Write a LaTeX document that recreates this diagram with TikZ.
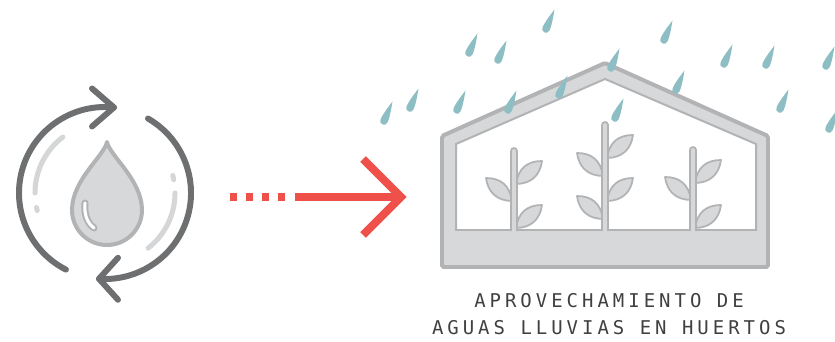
\documentclass[tikz,border=0pt]{standalone}
\usepackage{fontspec}
\usetikzlibrary{calc}
\newfontfamily\captionmono[LetterSpace=21]{DejaVu Sans Mono}
\definecolor{cycleGray}{RGB}{109,111,113}
\definecolor{cycleLight}{RGB}{213,214,215}
\definecolor{shellGray}{RGB}{215,216,218}
\definecolor{edgeGray}{RGB}{178,179,181}
\definecolor{rainTeal}{RGB}{141,190,196}
\definecolor{flowRed}{RGB}{239,80,74}
\definecolor{captionGray}{RGB}{64,64,64}

\begin{document}
\begin{tikzpicture}[
  x=0.03cm, y=-0.03cm,
  cyclearc/.style={draw=cycleGray, line width=5.1pt, line cap=round, line join=round},
  cycleinner/.style={draw=cycleLight, line width=4.3pt, line cap=round},
  dropshape/.style={fill=shellGray, draw=edgeGray, line width=3.4pt, line join=round},
  dropshine/.style={line cap=round},
  frame/.style={fill=shellGray, draw=edgeGray, line width=3.4pt, rounded corners=1.5pt},
  frameinner/.style={fill=white, draw=edgeGray, line width=1.7pt},
  stem/.style={fill=shellGray, draw=edgeGray, line width=1.5pt},
  leaf/.style={fill=shellGray, draw=edgeGray, line width=1.5pt, line join=round},
  flowline/.style={draw=flowRed, line width=6.8pt},
  caption/.style={font=\captionmono\fontsize{16.2}{23.4}\selectfont, text=captionGray, align=center, inner sep=0pt},
  raindrop/.pic={\fill[rainTeal] (8.5,-19.5) .. controls (7.5,-14) and (6.3,-4.9) .. (3.48,1.52)
    arc[start angle=23.5, end angle=203.5, radius=3.8] .. controls (-0.69,-7.94) and (5.13,-15.03) .. (8.5,-19.5) -- cycle;},
  leafshape/.pic={\filldraw[leaf] (0,0) .. controls (2.2,-15.5) and (11.2,-23) .. (26,-23) .. controls (24,-8.5) and (15,-0.2) .. (0,0) -- cycle;}
]
\useasboundingbox (0,0) rectangle (835,342);

% water cycle icon
\coordinate (cyclecenter) at (105,193);
\draw[cycleinner] (cyclecenter) ++(-127:70) arc[start angle=-127, end angle=-180, radius=70];
\draw[cycleinner] (cyclecenter) ++(-192:70) arc[start angle=-192, end angle=-194.5, radius=70];
\draw[cycleinner] (cyclecenter) ++(0:70) arc[start angle=0, end angle=52, radius=70];
\draw[cycleinner] (cyclecenter) ++(-11:70) arc[start angle=-11, end angle=-14.5, radius=70];

\coordinate (toptip) at ($(cyclecenter)+(-84:86)$);
\coordinate (bottomtip) at ($(cyclecenter)+(94:86)$);
\draw[cyclearc] (toptip) arc[start angle=-84, end angle=-243, radius=86];
\draw[cyclearc] ($(toptip)+(-22,-19)$) -- (toptip) -- ($(toptip)+(-22,19)$);
\draw[cyclearc] (cyclecenter) ++(-60:86) arc[start angle=-60, end angle=94, radius=86];
\draw[cyclearc] ($(bottomtip)+(19,-21)$) -- (bottomtip) -- ($(bottomtip)+(19,21)$);

\filldraw[dropshape] (107,142) .. controls (110,156) and (142,180) .. (142,210)
  arc[start angle=0, end angle=180, radius=35] .. controls (72,180) and (104,156) .. (107,142) -- cycle;
\draw[dropshine, draw=edgeGray, line width=6pt] (85,203) .. controls (84,214) and (87,223) .. (94,228);
\draw[dropshine, draw=white, line width=2.6pt] (85,203) .. controls (84,214) and (87,223) .. (94,228);

% flow arrow
\coordinate (flowstart) at (230,197);
\coordinate (flowdotsend) at (285,197);
\coordinate (flowlinestart) at (295,197);
\coordinate (flowtip) at (401,197);
\draw[flowline, dash pattern=on 5.95pt off 7.65pt] (flowstart) -- (flowdotsend);
\draw[flowline] (flowlinestart) -- (flowtip);
\draw[flowline, line join=miter] ($(flowtip)+(-38,-38)$) -- (flowtip) -- ($(flowtip)+(-38,38)$);

% greenhouse
\filldraw[frame] (442,136) -- (605,63) -- (768,136) -- (768,267) -- (442,267) -- cycle;
\filldraw[frameinner] (456,144) -- (605,79) -- (756,144) -- (756,230) -- (456,230) -- cycle;

\pic at (516,184) {leafshape};
\pic[xscale=-1] at (512,201) {leafshape};
\pic at (516,228) {leafshape};
\pic at (607,158) {leafshape};
\pic[xscale=-1] at (603,176) {leafshape};
\pic at (607,201) {leafshape};
\pic[xscale=-1] at (603,219) {leafshape};
\pic at (695,183) {leafshape};
\pic[xscale=-1] at (691,200) {leafshape};
\pic at (695,228) {leafshape};

\filldraw[stem] (511,231) -- (511,151) arc[start angle=180, end angle=360, radius=3] -- (517,231);
\filldraw[stem] (602,231) -- (602,125) arc[start angle=180, end angle=360, radius=3] -- (608,231);
\filldraw[stem] (690,231) -- (690,150) arc[start angle=180, end angle=360, radius=3] -- (696,231);

% rain
\pic at (546,29) {raindrop};
\pic at (469,53) {raindrop};
\pic at (498,60) {raindrop};
\pic at (410,108) {raindrop};
\pic at (384,121) {raindrop};
\pic at (457,110) {raindrop};
\pic at (508,110) {raindrop};
\pic at (559,95) {raindrop};
\pic at (611,68) {raindrop};
\pic at (664,40) {raindrop};
\pic at (676,90) {raindrop};
\pic at (615,118) {raindrop};
\pic at (724,64) {raindrop};
\pic at (766,65) {raindrop};
\pic at (826,66) {raindrop};
\pic at (780,109) {raindrop};
\pic at (829,129) {raindrop};

\node[caption] (caption) at (609,314) {APROVECHAMIENTO DE\\AGUAS LLUVIAS EN HUERTOS};
\end{tikzpicture}
\end{document}
